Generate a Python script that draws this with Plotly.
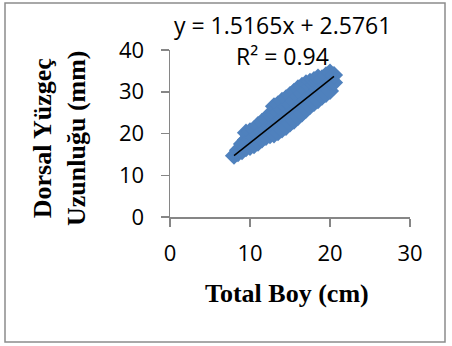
import plotly.graph_objects as go

# Data
total_boy = [8.0,
             8.5, 8.5,
             9.0, 9.0,
             9.5, 9.5, 9.5,
             10.0, 10.0, 10.0,
             10.5, 10.5, 10.5,
             11.0, 11.0, 11.0,
             11.5, 11.5, 11.5,
             12.0, 12.0, 12.0,
             12.5, 12.5, 12.5,
             13.0, 13.0, 13.0, 13.0,
             13.5, 13.5, 13.5, 13.5,
             14.0, 14.0, 14.0, 14.0,
             14.5, 14.5, 14.5, 14.5,
             15.0, 15.0, 15.0, 15.0,
             15.5, 15.5, 15.5, 15.5,
             16.0, 16.0, 16.0, 16.0,
             16.5, 16.5, 16.5, 16.5,
             17.0, 17.0, 17.0, 17.0,
             17.5, 17.5, 17.5, 17.5,
             18.0, 18.0, 18.0, 18.0,
             18.5, 18.5, 18.5, 18.5,
             19.0, 19.0, 19.0,
             19.5, 19.5, 19.5,
             20.0, 20.0, 20.0,
             20.5, 20.5]
dorsal_yuzgec = [14.7,
                 15.3, 16.0,
                 15.8, 17.5,
                 16.5, 18.5, 20.2,
                 16.8, 18.5, 20.5,
                 17.2, 19.0, 21.0,
                 17.8, 19.8, 22.0,
                 18.6, 20.5, 22.8,
                 19.2, 21.0, 23.5,
                 19.6, 21.8, 24.6,
                 19.8, 22.0, 24.5, 26.5,
                 20.3, 22.8, 25.0, 27.0,
                 21.0, 23.5, 25.8, 27.8,
                 21.6, 24.0, 26.5, 28.4,
                 22.4, 24.8, 27.0, 29.2,
                 23.1, 25.5, 27.8, 30.0,
                 24.0, 26.5, 28.8, 30.8,
                 24.8, 27.2, 29.5, 31.4,
                 25.7, 28.0, 30.3, 32.0,
                 26.6, 29.0, 31.2, 32.4,
                 27.3, 29.6, 31.8, 32.8,
                 28.0, 30.4, 32.6, 33.4,
                 28.8, 31.0, 33.2,
                 29.5, 31.8, 33.9,
                 30.2, 32.5, 34.6,
                 32.2, 34.0]

trend_slope = 1.5165
trend_intercept = 2.5761
trend_x = [8.0, 20.5]
trend_y = [trend_slope * v + trend_intercept for v in trend_x]

x_ticks = [0, 10, 20, 30]
y_ticks = [0, 10, 20, 30, 40]
equation_text = "y = 1.5165x + 2.5761"
r2_text = "R² = 0.94"
x_title = "Total Boy (cm)"
y_title = "Dorsal Yüzgeç<br>Uzunluğu (mm)"

AXIS_COLOR = "#868686"
BLUE = "#4F81BD"

fig = go.Figure()
fig.add_trace(go.Scatter(
    x=total_boy, y=dorsal_yuzgec, mode="markers",
    marker=dict(symbol="diamond", size=14, color=BLUE, line=dict(width=0)),
    hoverinfo="skip"))
fig.add_trace(go.Scatter(
    x=trend_x, y=trend_y, mode="lines",
    line=dict(color="black", width=1.5), hoverinfo="skip"))

# plot area: x 170..410 px, y 50..217 px
L, R, T, B = 170, 410, 50, 217
W, H = R - L, B - T

def px(xp):
    return (xp - L) / W

def py(yp):
    return (B - yp) / H

fig.update_layout(
    width=452, height=346,
    margin=dict(l=L, r=452 - R, t=T, b=346 - B),
    paper_bgcolor="white", plot_bgcolor="white",
    showlegend=False,
    xaxis=dict(range=[0, 30], tickvals=x_ticks, showgrid=False, zeroline=False,
               showline=True, linecolor=AXIS_COLOR, linewidth=1.5,
               ticks="outside", ticklen=8, tickcolor=AXIS_COLOR, tickwidth=1.5,
               ticklabelstandoff=8,
               tickfont=dict(family="Open Sans", size=22, color="black")),
    yaxis=dict(range=[0, 40], tickvals=y_ticks, showgrid=False, zeroline=False,
               showline=True, linecolor=AXIS_COLOR, linewidth=1.5,
               ticks="outside", ticklen=8, tickcolor=AXIS_COLOR, tickwidth=1.5,
               ticklabelstandoff=12,
               tickfont=dict(family="Open Sans", size=22, color="black")),
    annotations=[
        dict(text=equation_text, x=px(282), y=py(25), xref="paper", yref="paper",
             showarrow=False, xanchor="center", yanchor="middle",
             font=dict(family="Open Sans", size=23, color="black")),
        dict(text=r2_text, x=px(282), y=py(56), xref="paper", yref="paper",
             showarrow=False, xanchor="center", yanchor="middle",
             font=dict(family="Open Sans", size=23, color="black")),
        dict(text="<b>" + x_title + "</b>", x=px(287), y=py(293), xref="paper", yref="paper",
             showarrow=False, xanchor="center", yanchor="middle",
             font=dict(family="Liberation Serif", size=26, color="black")),
        dict(text="<b>" + y_title + "</b>", x=px(59), y=py(138), xref="paper", yref="paper",
             showarrow=False, xanchor="center", yanchor="middle", textangle=-90,
             font=dict(family="Liberation Serif", size=26, color="black")),
    ],
    shapes=[
        dict(type="rect", xref="paper", yref="paper",
             x0=px(5), x1=px(445), y0=py(342), y1=py(3),
             line=dict(color="#8c8c8c", width=1.5), fillcolor="rgba(0,0,0,0)", layer="below"),
    ],
)

fig.write_html(
    "out.html",
    config={"displayModeBar": False, "staticPlot": True},
    post_script="document.body.style.margin='0';document.body.style.overflow='hidden';",
)
